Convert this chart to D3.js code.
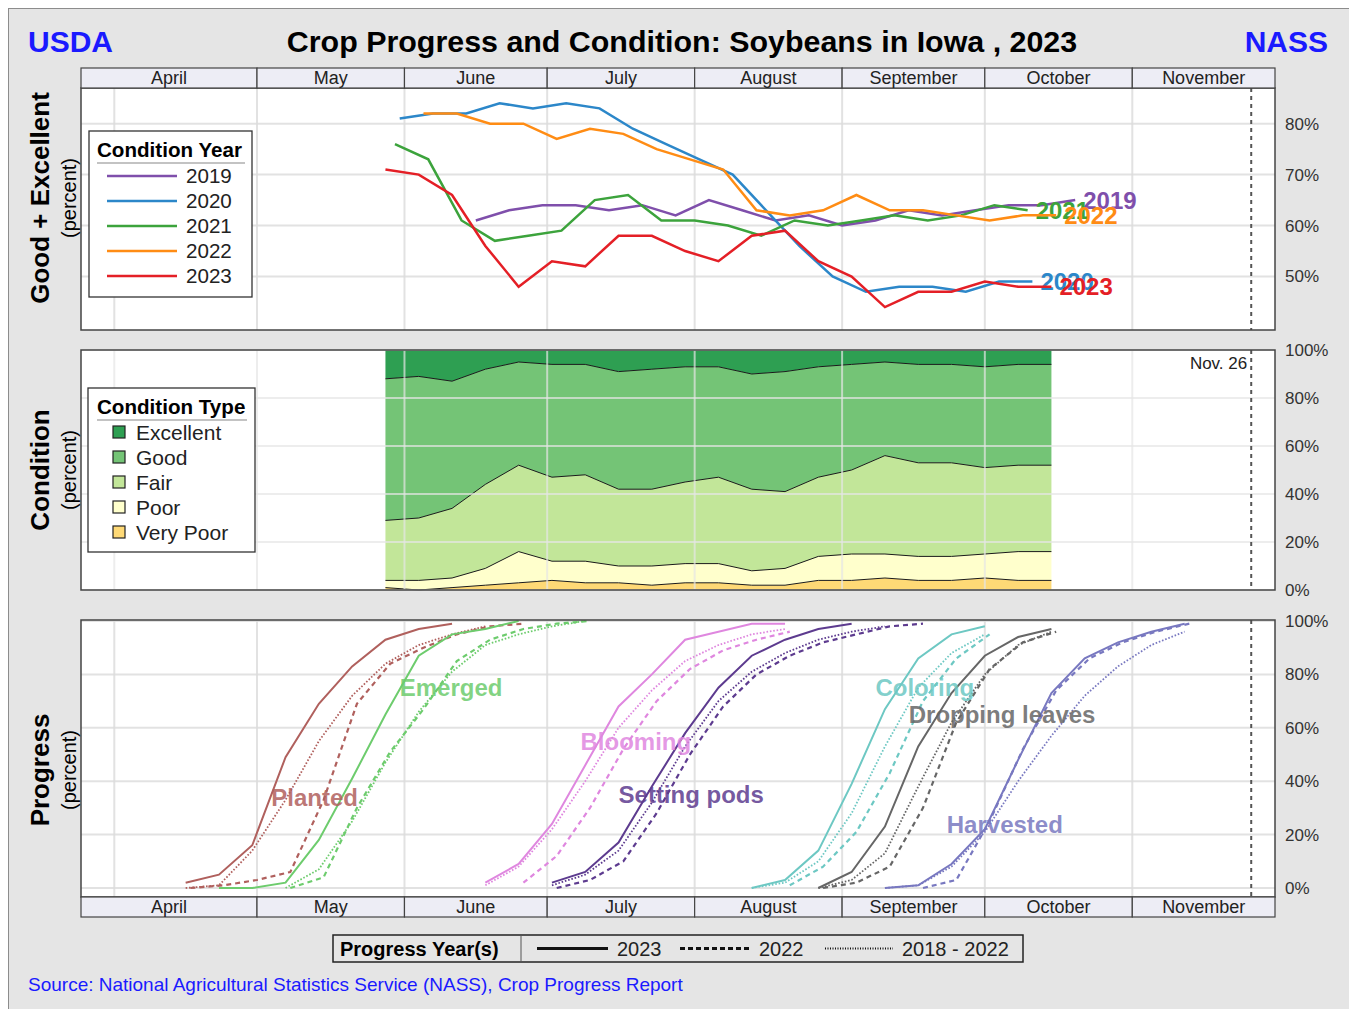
<!DOCTYPE html>
<meta charset="utf-8">
<script src="https://d3js.org/d3.v7.min.js"></script>
<style>
    body { margin: 0; background: #fff; }
    svg text { font-family: "Liberation Sans", Arial, sans-serif; }
</style>
<body>
<div id="chart"></div>
<script>
    // ---------- data ----------
    const monthNames = ["April", "May", "June", "July", "August", "September", "October", "November"];

    // Good + Excellent (%) by year, weekly from the first rating
    const conditionYears = ["2019", "2020", "2021", "2022", "2023"];
    const yearColors = ["#7f4fab", "#2c87c9", "#3ca33c", "#ff8c14", "#e41f26"];
    const yearFirstWeek = ["2019-06-16", "2020-05-31", "2021-05-30", "2022-06-05", "2023-05-28"];
    const ge2019 = [61, 63, 64, 64, 63, 64, 62, 65, 63, 61, 62, 60, 61, 63, 62, 63, 64, 64, 65];
    const ge2020 = [81, 82, 82, 84, 83, 84, 83, 79, 76, 73, 70, 63, 56, 50, 47, 48, 48, 47, 49, 49];
    const ge2021 = [76, 73, 61, 57, 58, 59, 65, 66, 61, 61, 60, 58, 61, 60, 61, 62, 61, 62, 64, 63];
    const ge2022 = [82, 82, 80, 80, 77, 79, 78, 75, 73, 71, 63, 62, 63, 66, 63, 63, 62, 61, 62, 62];

    // 2023 condition (%), weekly from 2023-05-28
    const conditionTypes = ["Excellent", "Good", "Fair", "Poor", "Very Poor"];
    const conditionColors = ["#2e9f52", "#74c476", "#c2e699", "#ffffcc", "#fed976"];
    const veryPoor = [1, 0, 1, 2, 3, 4, 3, 3, 2, 3, 3, 2, 2, 4, 4, 5, 4, 4, 5, 4, 4];
    const poor = [3, 4, 4, 7, 13, 8, 9, 7, 8, 8, 8, 6, 7, 10, 11, 10, 10, 10, 10, 12, 12];
    const fair = [25, 26, 29, 35, 36, 35, 36, 32, 32, 34, 36, 34, 32, 33, 35, 41, 39, 39, 36, 36, 36];
    const good = [59, 59, 53, 48, 43, 47, 46, 49, 50, 48, 46, 48, 50, 46, 44, 39, 41, 41, 42, 42, 42];
    const excellent = [12, 11, 13, 8, 5, 6, 6, 9, 8, 7, 7, 10, 9, 7, 6, 5, 6, 6, 7, 6, 6];

    // Progress (%), weekly from each series' first week
    const stageNames = ["Planted", "Emerged", "Blooming", "Setting pods", "Coloring", "Dropping leaves", "Harvested"];
    const stageColors = ["#b0605d", "#6dcc6d", "#df87df", "#5d3b8f", "#6dc8c3", "#666666", "#7878c0"];
    const stageStart2023 = ["2023-04-16", "2023-04-23", "2023-06-18", "2023-07-02", "2023-08-13", "2023-08-27", "2023-09-10"];
    const stageStart2022 = ["2022-04-17", "2022-05-08", "2022-06-26", "2022-07-03", "2022-08-21", "2022-08-28", "2022-09-18"];
    const stageStartAvg = ["2023-04-16", "2023-05-07", "2023-06-18", "2023-07-02", "2023-08-13", "2023-08-27", "2023-09-10"];
    const progress2023 = [
        [2, 5, 16, 49, 69, 83, 93, 97, 99],
        [0, 0, 2, 18, 41, 65, 87, 95, 97, 100],
        [2, 9, 24, 46, 68, 80, 93, 96, 99, 99],
        [2, 6, 17, 38, 58, 75, 87, 93, 97, 99],
        [0, 3, 14, 39, 67, 86, 95, 98],
        [0, 6, 23, 53, 73, 87, 94, 97],
        [0, 1, 9, 22, 48, 73, 86, 92, 96, 99]
    ];
    const progress2022 = [
        [0, 1, 3, 6, 33, 69, 84, 90, 95, 98, 99],
        [0, 4, 30, 51, 67, 85, 93, 97, 99, 100],
        [2, 12, 30, 52, 70, 82, 89, 93, 96],
        [0, 3, 10, 28, 50, 68, 80, 87, 92, 95, 98, 99],
        [1, 8, 21, 43, 70, 86, 95],
        [0, 2, 8, 30, 62, 82, 92, 96],
        [0, 3, 25, 52, 74, 86, 92, 96, 99]
    ];
    const progressAvg = [
        [0, 1, 14, 33, 55, 72, 84, 91, 95, 98],
        [0, 7, 25, 47, 66, 81, 91, 95, 98, 100],
        [1, 8, 22, 40, 60, 74, 85, 91, 95, 97],
        [1, 5, 14, 32, 53, 70, 81, 88, 93, 96, 98],
        [0, 2, 10, 28, 53, 75, 88, 95],
        [0, 3, 13, 38, 62, 80, 91, 96],
        [0, 1, 8, 21, 40, 57, 72, 83, 91, 96]
    ];
    // where each stage name is written (date, percent)
    const stageLabelAt = [["2023-05-04", 34], ["2023-05-31", 75], ["2023-07-08", 55], ["2023-07-16", 35],
        ["2023-09-08", 75], ["2023-09-15", 65], ["2023-09-23", 24]];

    const progressYears = ["2023", "2022", "2018 - 2022"];
    const lastWeek = "2023-11-26";

    // ---------- helpers ----------
    const parse = d3.timeParse("%Y-%m-%d");
    // weekly dates, moved onto the 2023 calendar so all years share one axis
    function weeks(start, n) {
        let s = parse(start);
        return d3.range(n).map(function (i) {
            let d = d3.timeDay.offset(s, 7 * i);
            return new Date(2023, d.getMonth(), d.getDate());
        });
    }

    let W = 1349, H = 1009;
    let left = 81, right = 1275;

    var svg = d3.select("#chart")
        .append("svg")
        .attr("width", W)
        .attr("height", H);

    svg.append("rect")
        .attr("x", 8.5).attr("y", 8.5)
        .attr("width", W).attr("height", H)
        .attr("fill", "#e5e5e5")
        .attr("stroke", "#8c8c8c");

    var x = d3.scaleTime()
        .domain([new Date(2023, 2, 25), new Date(2023, 11, 1)])
        .range([left, right]);

    let monthStarts = d3.range(3, 11).map(function (m) { return new Date(2023, m, 1); });

    // ---------- title ----------
    svg.append("text")
        .attr("x", 682).attr("y", 52)
        .attr("text-anchor", "middle")
        .style("font-size", "30.4px").style("font-weight", "bold")
        .text("Crop Progress and Condition: Soybeans in Iowa , 2023");
    svg.append("text")
        .attr("x", 28).attr("y", 52)
        .style("font-size", "30px").style("font-weight", "bold")
        .attr("fill", "#1a1aff")
        .text("USDA");
    svg.append("text")
        .attr("x", 1328).attr("y", 52)
        .attr("text-anchor", "end")
        .style("font-size", "30px").style("font-weight", "bold")
        .attr("fill", "#1a1aff")
        .text("NASS");

    // ---------- panel scaffolding ----------
    function monthBand(y0) {
        let g = svg.append("g");
        let bounds = [x.domain()[0]].concat(monthStarts.slice(1)).concat([x.domain()[1]]);
        monthNames.forEach(function (name, i) {
            let x0 = x(bounds[i]), x1 = x(bounds[i + 1]);
            g.append("rect")
                .attr("x", x0).attr("y", y0)
                .attr("width", x1 - x0).attr("height", 20)
                .attr("fill", "#ededf5")
                .attr("stroke", "#444").attr("stroke-width", 1.2);
            g.append("text")
                .attr("x", (x0 + x1) / 2).attr("y", y0 + 16)
                .attr("text-anchor", "middle")
                .style("font-size", "18px")
                .attr("fill", "#222")
                .text(name);
        });
    }

    // white background, grid and right-hand tick labels; returns the grid group
    function panel(y0, y1, y, ticks, fmt) {
        svg.append("rect")
            .attr("x", left).attr("y", y0)
            .attr("width", right - left).attr("height", y1 - y0)
            .attr("fill", "#fff");
        let grid = svg.append("g");
        grid.selectAll("line.v")
            .data(monthStarts)
            .enter().append("line")
            .attr("x1", function (d) { return x(d); })
            .attr("x2", function (d) { return x(d); })
            .attr("y1", y0).attr("y2", y1)
            .attr("stroke", "#dcdcdc").attr("stroke-width", 2).attr("opacity", 0.8);
        grid.selectAll("line.h")
            .data(ticks)
            .enter().append("line")
            .attr("x1", left).attr("x2", right)
            .attr("y1", function (d) { return y(d); })
            .attr("y2", function (d) { return y(d); })
            .attr("stroke", "#dcdcdc").attr("stroke-width", 2).attr("opacity", 0.8);
        svg.append("g")
            .selectAll("text")
            .data(ticks)
            .enter().append("text")
            .attr("x", 1285)
            .attr("y", function (d) { return y(d); })
            .attr("dy", "0.35em")
            .style("font-size", "17px")
            .attr("fill", "#333")
            .text(fmt);
        return grid;
    }

    function frame(y0, y1) {
        svg.append("line")
            .attr("x1", x(parse(lastWeek))).attr("x2", x(parse(lastWeek)))
            .attr("y1", y0).attr("y2", y1)
            .attr("stroke", "#555").attr("stroke-width", 2)
            .attr("stroke-dasharray", "4,4");
        svg.append("rect")
            .attr("x", left).attr("y", y0)
            .attr("width", right - left).attr("height", y1 - y0)
            .attr("fill", "none")
            .attr("stroke", "#444").attr("stroke-width", 1.5);
    }

    function sideTitle(cy, title) {
        svg.append("text")
            .attr("transform", "translate(49," + cy + ") rotate(-90)")
            .attr("text-anchor", "middle")
            .style("font-size", "26px").style("font-weight", "bold")
            .text(title);
        svg.append("text")
            .attr("transform", "translate(76," + cy + ") rotate(-90)")
            .attr("text-anchor", "middle")
            .style("font-size", "20px")
            .text("(percent)");
    }

    let pct = function (d) { return d + "%"; };

    // ---------- panel 1: good + excellent ----------
    var y1 = d3.scaleLinear().domain([39.5, 87]).range([330, 88]);
    panel(88, 330, y1, [50, 60, 70, 80], pct);

    let geSeries = [ge2019, ge2020, ge2021, ge2022, d3.range(good.length).map(function (i) { return good[i] + excellent[i]; })];
    let line1 = d3.line()
        .x(function (d) { return x(d[0]); })
        .y(function (d) { return y1(d[1]); });

    geSeries.forEach(function (vals, i) {
        let pts = d3.zip(weeks(yearFirstWeek[i], vals.length), vals);
        svg.append("path")
            .datum(pts)
            .attr("d", line1)
            .attr("fill", "none")
            .attr("stroke", yearColors[i])
            .attr("stroke-width", 2.5);
        let last = pts[pts.length - 1];
        svg.append("text")
            .attr("x", x(last[0]) + 8).attr("y", y1(last[1]))
            .attr("dy", "0.36em")
            .style("font-size", "24px").style("font-weight", "bold")
            .attr("fill", yearColors[i])
            .text(conditionYears[i]);
    });
    frame(88, 330);
    monthBand(68);
    sideTitle(198, "Good + Excellent");

    // legend
    let lg1 = svg.append("g");
    lg1.append("rect").attr("x", 89).attr("y", 131).attr("width", 163).attr("height", 166)
        .attr("fill", "#fff").attr("stroke", "#333").attr("stroke-width", 1.3);
    lg1.append("text").attr("x", 97).attr("y", 157)
        .style("font-size", "20.6px").style("font-weight", "bold").text("Condition Year");
    lg1.append("line").attr("x1", 97).attr("x2", 245).attr("y1", 163).attr("y2", 163)
        .attr("stroke", "#888").attr("stroke-width", 1.2);
    conditionYears.forEach(function (yr, i) {
        lg1.append("line").attr("x1", 107).attr("x2", 177)
            .attr("y1", 176 + 25 * i).attr("y2", 176 + 25 * i)
            .attr("stroke", yearColors[i]).attr("stroke-width", 2.5);
        lg1.append("text").attr("x", 186).attr("y", 176 + 25 * i).attr("dy", "0.36em")
            .style("font-size", "20.6px").attr("fill", "#222").text(yr);
    });

    // ---------- panel 2: condition ----------
    var y2 = d3.scaleLinear().domain([0, 100]).range([590, 350]);
    let grid2 = panel(350, 590, y2, [0, 20, 40, 60, 80, 100], pct);

    let condDates = weeks(yearFirstWeek[4], good.length);
    let condRows = condDates.map(function (d, i) {
        return {date: d, vp: veryPoor[i], p: poor[i], f: fair[i], g: good[i], e: excellent[i]};
    });
    let stacked = d3.stack().keys(["vp", "p", "f", "g", "e"])(condRows);

    let areaG = svg.append("g");
    let area = d3.area()
        .x(function (d) { return x(d.data.date); })
        .y0(function (d) { return y2(d[0]); })
        .y1(function (d) { return y2(d[1]); });
    areaG.selectAll("path.layer")
        .data(stacked)
        .enter().append("path")
        .attr("d", area)
        .attr("fill", function (d, i) { return conditionColors[4 - i]; });
    areaG.selectAll("path.edge")
        .data(stacked.slice(0, 4))
        .enter().append("path")
        .attr("d", d3.line()
            .x(function (d) { return x(d.data.date); })
            .y(function (d) { return y2(d[1]); }))
        .attr("fill", "none")
        .attr("stroke", "#1a1a1a")
        .attr("stroke-width", 1);
    // grid shows through the stacked areas
    grid2.raise().selectAll("line").attr("stroke", "#e6e6e6").attr("opacity", 0.7);

    svg.append("text")
        .attr("x", x(parse(lastWeek)) - 4).attr("y", 363)
        .attr("dy", "0.35em")
        .attr("text-anchor", "end")
        .style("font-size", "17px").attr("fill", "#222")
        .text("Nov. 26");
    frame(350, 590);
    sideTitle(470, "Condition");

    let lg2 = svg.append("g");
    lg2.append("rect").attr("x", 88).attr("y", 388).attr("width", 167).attr("height", 164)
        .attr("fill", "#fff").attr("stroke", "#333").attr("stroke-width", 1.3);
    lg2.append("text").attr("x", 97).attr("y", 414)
        .style("font-size", "20.6px").style("font-weight", "bold").text("Condition Type");
    lg2.append("line").attr("x1", 97).attr("x2", 247).attr("y1", 420).attr("y2", 420)
        .attr("stroke", "#888").attr("stroke-width", 1.2);
    conditionTypes.forEach(function (t, i) {
        lg2.append("rect").attr("x", 113).attr("y", 426 + 25 * i).attr("width", 12).attr("height", 12)
            .attr("fill", conditionColors[i]).attr("stroke", "#222").attr("stroke-width", 1.2);
        lg2.append("text").attr("x", 136).attr("y", 432 + 25 * i).attr("dy", "0.36em")
            .style("font-size", "21px").attr("fill", "#222").text(t);
    });

    // ---------- panel 3: progress ----------
    var y3 = d3.scaleLinear().domain([0, 100]).range([888, 621]);
    panel(620, 897, y3, [0, 20, 40, 60, 80, 100], pct);
    let line3 = d3.line()
        .x(function (d) { return x(d[0]); })
        .y(function (d) { return y3(d[1]); });
    let styles = [
        {data: progressAvg, start: stageStartAvg, dash: "1.6,1.8", width: 1.8},
        {data: progress2022, start: stageStart2022, dash: "5,4", width: 2.2},
        {data: progress2023, start: stageStart2023, dash: null, width: 2}
    ];
    styles.forEach(function (s) {
        s.data.forEach(function (vals, i) {
            svg.append("path")
                .datum(d3.zip(weeks(s.start[i], vals.length), vals))
                .attr("d", line3)
                .attr("fill", "none")
                .attr("stroke", stageColors[i])
                .attr("stroke-width", s.width)
                .attr("stroke-dasharray", s.dash);
        });
    });
    stageNames.forEach(function (name, i) {
        svg.append("text")
            .attr("x", x(parse(stageLabelAt[i][0])))
            .attr("y", y3(stageLabelAt[i][1]))
            .attr("dy", "0.36em")
            .style("font-size", "24px").style("font-weight", "bold")
            .attr("fill", stageColors[i]).attr("fill-opacity", 0.85)
            .text(name);
    });
    frame(620, 897);
    monthBand(897);
    sideTitle(770, "Progress");

    // bottom legend
    let lg3 = svg.append("g");
    lg3.append("rect").attr("x", 333).attr("y", 935).attr("width", 690).attr("height", 27)
        .attr("fill", "#e5e5e5").attr("stroke", "#222").attr("stroke-width", 1.5);
    lg3.append("line").attr("x1", 521).attr("x2", 521).attr("y1", 935).attr("y2", 962)
        .attr("stroke", "#555").attr("stroke-width", 1);
    lg3.append("text").attr("x", 340).attr("y", 948.5).attr("dy", "0.36em")
        .style("font-size", "20px").style("font-weight", "bold").text("Progress Year(s)");
    let legendItems = [
        {x0: 537, x1: 608, dash: null, w: 3},
        {x0: 680, x1: 750, dash: "5,3", w: 3},
        {x0: 825, x1: 893, dash: "1,1.5", w: 2}
    ];
    progressYears.forEach(function (label, i) {
        let it = legendItems[i];
        lg3.append("line").attr("x1", it.x0).attr("x2", it.x1).attr("y1", 948.5).attr("y2", 948.5)
            .attr("stroke", "#111").attr("stroke-width", it.w).attr("stroke-dasharray", it.dash);
        lg3.append("text").attr("x", it.x1 + 9).attr("y", 948.5).attr("dy", "0.36em")
            .style("font-size", "20px").attr("fill", "#222").text(label);
    });

    svg.append("text")
        .attr("x", 28).attr("y", 991)
        .style("font-size", "19px")
        .attr("fill", "#1a1aff")
        .text("Source: National Agricultural Statistics Service (NASS), Crop Progress Report");
</script>
</body>
